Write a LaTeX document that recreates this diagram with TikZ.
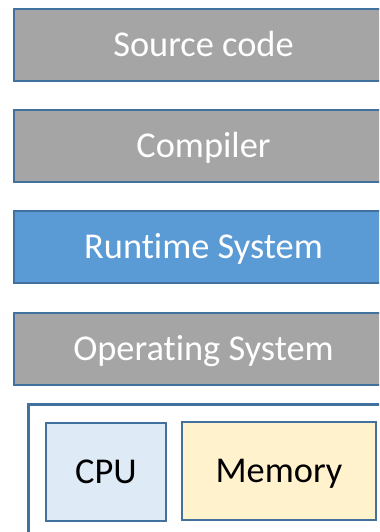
\documentclass[tikz,border=0pt]{standalone}
\usepackage{fontspec}
\setmainfont[Ligatures=NoCommon]{Carlito}
\definecolor{edgeblue}{HTML}{41719C}
\definecolor{layergray}{HTML}{A5A5A5}
\definecolor{layerblue}{HTML}{5B9BD5}
\definecolor{cpufill}{HTML}{DEEBF7}
\definecolor{memfill}{HTML}{FFF2CC}
\begin{document}
\begin{tikzpicture}[x=1bp,y=-1bp,
  layer/.style={draw=edgeblue, line width=2.6bp, fill=layergray, text=white,
    minimum width=379bp, minimum height=72bp, inner sep=0pt,
    text height=23.5bp, text depth=0pt,
    font=\fontsize{36.5}{40}\selectfont},
  part/.style={draw=edgeblue, line width=2.6bp, text=black, inner sep=0pt,
    text height=23.5bp, text depth=0pt,
    font=\fontsize{36.5}{40}\selectfont},
]
\useasboundingbox (0,0) rectangle (379,532);
\clip (0,0) rectangle (379,532);
% software layers
\node[layer] (src) at (203.5,45) {Source code};
\node[layer] (comp) at (203.5,146) {Compiler};
\node[layer, fill=layerblue] (rts) at (203.5,247) {Runtime System};
\node[layer] (os) at (203.5,349) {Operating System};
% hardware
\node[draw=edgeblue, line width=2.6bp, fill=white, minimum width=380bp,
  minimum height=160bp, inner sep=0pt, anchor=north west] (hw) at (27,403) {};
\node[part, fill=cpufill, minimum width=120bp, minimum height=98bp] (cpu) at (106,472) {CPU};
\node[part, fill=memfill, minimum width=194bp, minimum height=98bp] (mem) at (279,471) {Memory};
\end{tikzpicture}
\end{document}
